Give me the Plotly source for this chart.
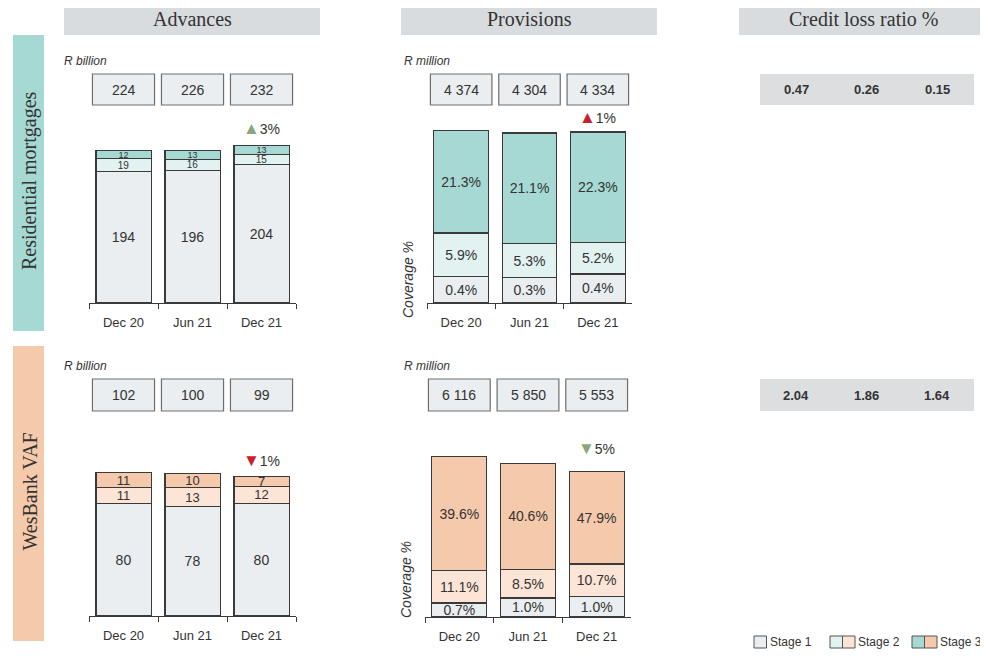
import plotly.graph_objects as go

# ---------------- data ----------------
categories = ["Dec 20", "Jun 21", "Dec 21"]

# Residential mortgages – advances (R billion)
rm_adv_stage1 = [194, 196, 204]
rm_adv_stage2 = [19, 16, 15]
rm_adv_stage3 = [12, 13, 13]
rm_adv_total = ["224", "226", "232"]
rm_adv_change = ("up", "3%", "good")

# Residential mortgages – provisions (R million, segment sizes estimated)
rm_prov_stage1 = [676, 653, 735]
rm_prov_stage2 = [1097, 847, 794]
rm_prov_stage3 = [2601, 2804, 2805]
rm_cov_stage1 = ["0.4%", "0.3%", "0.4%"]
rm_cov_stage2 = ["5.9%", "5.3%", "5.2%"]
rm_cov_stage3 = ["21.3%", "21.1%", "22.3%"]
rm_prov_total = ["4 374", "4 304", "4 334"]
rm_prov_change = ("up", "1%", "bad")
rm_credit_loss = ["0.47", "0.26", "0.15"]

# WesBank VAF – advances (R billion)
vaf_adv_stage1 = [80, 78, 80]
vaf_adv_stage2 = [11, 13, 12]
vaf_adv_stage3 = [11, 10, 7]
vaf_adv_total = ["102", "100", "99"]
vaf_adv_change = ("down", "1%", "bad")

# WesBank VAF – provisions (R million, segment sizes estimated)
vaf_prov_stage1 = [534, 727, 789]
vaf_prov_stage2 = [1247, 1096, 1232]
vaf_prov_stage3 = [4335, 4027, 3532]
vaf_cov_stage1 = ["0.7%", "1.0%", "1.0%"]
vaf_cov_stage2 = ["11.1%", "8.5%", "10.7%"]
vaf_cov_stage3 = ["39.6%", "40.6%", "47.9%"]
vaf_prov_total = ["6 116", "5 850", "5 553"]
vaf_prov_change = ("down", "5%", "good")
vaf_credit_loss = ["2.04", "1.86", "1.64"]

# ---------------- styling ----------------
OFF = 8                      # page body margin
W, H = 988 - OFF, 658 - OFF
SANS = "Liberation Sans, Arial, sans-serif"
SERIF = "Liberation Serif, Times New Roman, serif"
TXT = "#333333"
EDGE = "#3a3a3a"
STAGE1 = "#eaeef0"
RM2, RM3 = "#e1f2f1", "#a6d9d4"
VAF2, VAF3 = "#fce4d6", "#f5c9ab"
HEADER = "#d9dcdf"
BOXFILL = "#eaeef0"
GREEN = "#8aa77b"
RED = "#c8202a"


def X(px):
    return (px - OFF) / W


def Y(py):
    return 1 - (py - OFF) / H


fig = go.Figure()


def add_stack(axn, vals, texts, colors, sizes):
    xa = "x" if axn == 1 else f"x{axn}"
    ya = "y" if axn == 1 else f"y{axn}"
    for v, t, c, s in zip(vals, texts, colors, sizes):
        fig.add_trace(go.Bar(
            x=categories, y=v, text=t, xaxis=xa, yaxis=ya,
            marker=dict(color=c, line=dict(color=EDGE, width=1.2)),
            textposition="inside", insidetextanchor="middle", textangle=0,
            constraintext="none", texttemplate="%{text}",
            textfont=dict(family=SANS, size=s, color=TXT),
            showlegend=False, hoverinfo="skip"))


add_stack(1, [rm_adv_stage1, rm_adv_stage2, rm_adv_stage3],
          [[str(v) for v in rm_adv_stage1], [str(v) for v in rm_adv_stage2],
           [str(v) for v in rm_adv_stage3]],
          [STAGE1, RM2, RM3], [14, 10, 9])
add_stack(2, [rm_prov_stage1, rm_prov_stage2, rm_prov_stage3],
          [rm_cov_stage1, rm_cov_stage2, rm_cov_stage3],
          [STAGE1, RM2, RM3], [14, 14, 14])
add_stack(3, [vaf_adv_stage1, vaf_adv_stage2, vaf_adv_stage3],
          [[str(v) for v in vaf_adv_stage1], [str(v) for v in vaf_adv_stage2],
           [str(v) for v in vaf_adv_stage3]],
          [STAGE1, VAF2, VAF3], [14, 13, 13])
add_stack(4, [vaf_prov_stage1, vaf_prov_stage2, vaf_prov_stage3],
          [vaf_cov_stage1, vaf_cov_stage2, vaf_cov_stage3],
          [STAGE1, VAF2, VAF3], [14, 14, 14])

# axes geometry (pixels in the 988x658 page)
panels = {
    1: dict(x=(89, 296), y=(303, 120), r=270),
    2: dict(x=(427, 632), y=(303, 115), r=4762),
    3: dict(x=(89, 296), y=(616, 440), r=125),
    4: dict(x=(425, 631), y=(617, 440), r=6753),
}
layout_axes = {}
for n, p in panels.items():
    xk = "xaxis" if n == 1 else f"xaxis{n}"
    yk = "yaxis" if n == 1 else f"yaxis{n}"
    ya = "y" if n == 1 else f"y{n}"
    xa = "x" if n == 1 else f"x{n}"
    layout_axes[xk] = dict(
        domain=[X(p["x"][0]), X(p["x"][1])], anchor=ya, type="category",
        range=[-0.5, 2.5], showline=True, linecolor=EDGE, linewidth=1,
        ticks="outside", tickson="boundaries", ticklen=5, tickcolor=EDGE,
        tickfont=dict(family=SANS, size=13, color=TXT), showgrid=False,
        ticklabelstandoff=7, fixedrange=True)
    layout_axes[yk] = dict(
        domain=[Y(p["y"][0]), Y(p["y"][1])], anchor=xa, range=[0, p["r"]],
        visible=False, fixedrange=True)

shapes = []
annotations = []


def note(x, y, text, size, family=SANS, xref="paper", yref="paper", **kw):
    d = dict(xref=xref, yref=yref, x=x, y=y, text=text, showarrow=False,
             xanchor="center", yanchor="middle",
             font=dict(family=family, size=size, color=TXT))
    d.update(kw)
    annotations.append(d)


# column headers
for (x0, x1, label) in [(64, 320, "Advances"), (401, 657, "Provisions"),
                        (739, 988, "Credit loss ratio %")]:
    shapes.append(dict(type="rect", xref="paper", yref="paper", x0=X(x0), x1=X(x1),
                       y0=Y(35), y1=Y(5), fillcolor=HEADER, line=dict(width=0), layer="below"))
    note(X((x0 + x1) / 2), Y(19), label, 20, SERIF)

# row bands
for (y0, y1, col, label) in [(35, 331, RM3, "Residential mortgages"),
                             (346, 641, VAF3, "WesBank VAF")]:
    shapes.append(dict(type="rect", xref="paper", yref="paper", x0=X(13), x1=X(44),
                       y0=Y(y1), y1=Y(y0), fillcolor=col, line=dict(width=0), layer="below"))
    note(X(29), Y((y0 + y1) / 2 - 2), label, 20, SERIF, textangle=-90)

# unit labels and coverage labels
for (x, y, t) in [(62, 61, "R billion"), (62, 366, "R billion"),
                  (402, 61, "R million"), (402, 366, "R million")]:
    note(X(x), Y(y), f"<i>{t}</i>", 12, xanchor="left")
for (x, y) in [(408, 280), (406, 580)]:
    note(X(x), Y(y), "<i>Coverage %</i>", 14, textangle=-90)

# total boxes
for n, totals, (by0, by1) in [(1, rm_adv_total, (74, 105)), (2, rm_prov_total, (74, 105)),
                              (3, vaf_adv_total, (379, 411)), (4, vaf_prov_total, (379, 411))]:
    xa = "x" if n == 1 else f"x{n}"
    for i, t in enumerate(totals):
        shapes.append(dict(type="rect", xref=xa, yref="paper", x0=i - 0.45, x1=i + 0.45,
                           y0=Y(by1), y1=Y(by0), fillcolor=BOXFILL,
                           line=dict(color="#6e6e6e", width=1.2)))
        note(categories[i], Y((by0 + by1) / 2), t, 14, xref=xa)

# change indicators
for n, chg, tops, shift in [
        (1, rm_adv_change, [a + b + c for a, b, c in zip(rm_adv_stage1, rm_adv_stage2, rm_adv_stage3)], 6),
        (2, rm_prov_change, [a + b + c for a, b, c in zip(rm_prov_stage1, rm_prov_stage2, rm_prov_stage3)], 3),
        (3, vaf_adv_change, [a + b + c for a, b, c in zip(vaf_adv_stage1, vaf_adv_stage2, vaf_adv_stage3)], 5),
        (4, vaf_prov_change, [a + b + c for a, b, c in zip(vaf_prov_stage1, vaf_prov_stage2, vaf_prov_stage3)], 11)]:
    xa = "x" if n == 1 else f"x{n}"
    ya = "y" if n == 1 else f"y{n}"
    direction, val, tone = chg
    glyph = "▲" if direction == "up" else "▼"
    col = GREEN if tone == "good" else RED
    note(categories[2], tops[2],
         f'<span style="color:{col};font-size:17px">{glyph}</span>{val}', 14,
         xref=xa, yref=ya, yanchor="bottom", yshift=shift)

# credit loss ratio boxes
for vals, (by0, by1) in [(rm_credit_loss, (74, 105)), (vaf_credit_loss, (379, 411))]:
    shapes.append(dict(type="rect", xref="paper", yref="paper", x0=X(760), x1=X(974),
                       y0=Y(by1), y1=Y(by0), fillcolor="#dcdee0", line=dict(width=0)))
    for v, cx in zip(vals, [796, 866, 937]):
        note(X(cx), Y((by0 + by1) / 2), f"<b>{v}</b>", 13)

# legend
legend_items = [("Stage 1", [STAGE1], 754), ("Stage 2", [RM2, VAF2], 830),
                ("Stage 3", [RM3, VAF3], 912)]
for label, cols, x0 in legend_items:
    for k, c in enumerate(cols):
        shapes.append(dict(type="rect", xref="paper", yref="paper",
                           x0=X(x0 + 12.5 * k), x1=X(x0 + 12.5 * (k + 1)),
                           y0=Y(648), y1=Y(636), fillcolor=c,
                           line=dict(color="#555555", width=1)))
    note(X(x0 + 12.5 * len(cols) + 1), Y(642), label, 12, xanchor="left")

fig.update_layout(
    width=W, height=H, margin=dict(l=0, r=0, t=0, b=0),
    paper_bgcolor="white", plot_bgcolor="rgba(0,0,0,0)",
    barmode="stack", bargap=0.2, showlegend=False,
    shapes=shapes, annotations=annotations, **layout_axes)

fig.write_html("out.html")
